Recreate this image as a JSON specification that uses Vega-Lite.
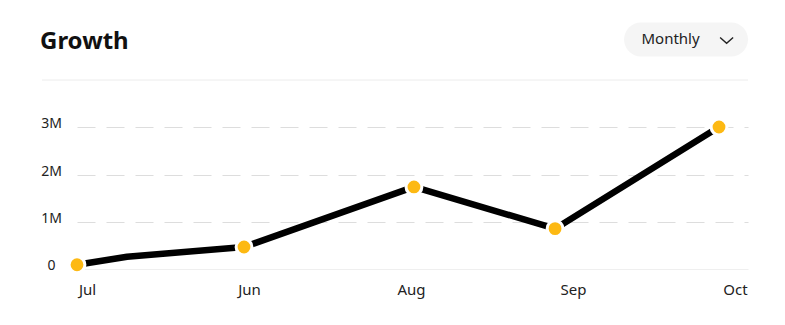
{
  "$schema": "https://vega.github.io/schema/vega-lite/v6.json",
  "width": 671,
  "height": 189,
  "autosize": {"type": "none"},
  "padding": {"left": 77, "top": 80, "right": 37, "bottom": 56},
  "background": "white",
  "config": {"view": {"stroke": null}, "font": "Noto Sans"},
  "title": {"text": "Growth", "anchor": "start", "frame": "group", "dx": -37, "offset": -51, "baseline": "alphabetic", "fontSize": 24, "fontWeight": "bold", "color": "#111111"},
  "data": {"values": [
    {"month": "Jul", "t": -0.062, "value": 90000, "marker": true},
    {"month": "", "t": 0.247, "value": 260000, "marker": false},
    {"month": "Jun", "t": 0.969, "value": 466000, "marker": true},
    {"month": "Aug", "t": 2.018, "value": 1737000, "marker": true},
    {"month": "Sep", "t": 2.889, "value": 854000, "marker": true},
    {"month": "Oct", "t": 3.901, "value": 3005000, "marker": true}
  ]},
  "layer": [
    {
      "data": {"values": [{}]},
      "mark": {"type": "rule", "color": "#ececec", "strokeWidth": 1, "clip": false},
      "encoding": {
        "x": {"datum": -0.278, "type": "quantitative"},
        "x2": {"datum": 4.08},
        "y": {"datum": 4000000, "type": "quantitative"}
      }
    },
    {
      "mark": {"type": "line", "color": "#000000", "strokeWidth": 6.5, "strokeJoin": "round", "clip": false},
      "encoding": {
        "x": {"field": "t", "type": "quantitative", "scale": {"domain": [-0.062, 4.08], "nice": false, "zero": false},
          "axis": {"values": [0, 1, 2, 3, 4], "labelExpr": "['Jul','Jun','Aug','Sep','Oct'][datum.value]", "title": null, "grid": false, "ticks": false, "domain": true, "domainColor": "#efefef", "domainWidth": 1, "labelFontSize": 15, "labelColor": "#222222", "labelPadding": 13, "labelBaseline": "top"}},
        "y": {"field": "value", "type": "quantitative", "scale": {"domain": [0, 4000000], "nice": false},
          "axis": {"values": [0, 1000000, 2000000, 3000000], "labelExpr": "datum.value == 0 ? '0' : (datum.value / 1000000) + 'M'", "title": null, "grid": true, "gridColor": "#dddddd", "gridDash": {"condition": {"test": "datum.value == 0", "value": []}, "value": [18, 11]}, "gridOpacity": {"condition": {"test": "datum.value == 0", "value": 0}, "value": 1}, "domain": false, "ticks": false, "labelFontSize": 14, "labelColor": "#222222", "labelAlign": "center", "labelPadding": 26, "labelOffset": -3.5}},
        "order": {"field": "t", "type": "quantitative"}
      }
    },
    {
      "transform": [{"filter": "datum.marker"}],
      "mark": {"type": "point", "filled": true, "color": "#FDB913", "stroke": "#ffffff", "strokeWidth": 3, "size": 250, "opacity": 1, "clip": false},
      "encoding": {
        "x": {"field": "t", "type": "quantitative"},
        "y": {"field": "value", "type": "quantitative"}
      }
    },
    {
      "data": {"values": [{}]},
      "mark": {"type": "rect", "fill": "#f5f5f5", "cornerRadius": 17, "clip": false},
      "encoding": {
        "x": {"datum": 3.315, "type": "quantitative"},
        "x2": {"datum": 4.08},
        "y": {"datum": 5218000, "type": "quantitative"},
        "y2": {"datum": 4498000}
      }
    },
    {
      "data": {"values": [{}]},
      "mark": {"type": "text", "text": "Monthly", "fontSize": 15, "fontWeight": 400, "color": "#222222", "align": "center", "baseline": "middle", "clip": false},
      "encoding": {
        "x": {"datum": 3.602, "type": "quantitative"},
        "y": {"datum": 4858000, "type": "quantitative"}
      }
    },
    {
      "data": {"values": [{}]},
      "mark": {"type": "point", "shape": "M-1,-0.45L0,0.45L1,-0.45", "filled": false, "stroke": "#222222", "strokeWidth": 1.4, "size": 169, "opacity": 1, "clip": false},
      "encoding": {
        "x": {"datum": 3.948, "type": "quantitative"},
        "y": {"datum": 4837000, "type": "quantitative"}
      }
    }
  ]
}
